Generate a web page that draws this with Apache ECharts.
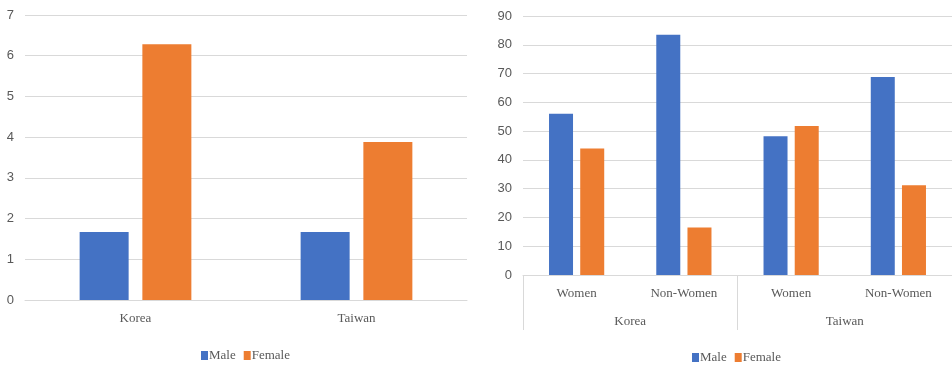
<!DOCTYPE html>
<html>
<head>
<meta charset="utf-8">
<script src="https://cdn.jsdelivr.net/npm/echarts@6/dist/echarts.min.js"></script>
<style>
  html, body { margin: 0; padding: 0; background: #fff; }
  #chart { width: 952px; height: 365px; }
</style>
</head>
<body>
<div id="chart"></div>
<script>
// left panel: share by country
const countries = ["Korea", "Taiwan"];
const leftMale = [1.67, 1.67];
const leftFemale = [6.28, 3.88];
const leftTicks = [0, 1, 2, 3, 4, 5, 6, 7];

// right panel: women / non-women by country
const subCats = ["Women", "Non-Women", "Women", "Non-Women"];
const groupCats = ["Korea", "Taiwan"];
const rightMale = [56, 83.5, 48.2, 68.8];
const rightFemale = [44, 16.5, 51.8, 31.2];

const BLUE = "#4472c4";
const ORANGE = "#ed7d31";
const GRID = "#d9d9d9";
const TXT = "#595959";
const serif = "Liberation Serif";
const sans = "Liberation Sans";

const chart = echarts.init(document.getElementById("chart"));

const valueAxis = (gridIndex, max, interval) => ({
  type: "value",
  gridIndex: gridIndex,
  min: 0,
  max: max,
  interval: interval,
  axisLine: { show: false },
  axisTick: { show: false },
  axisLabel: { color: TXT, fontFamily: sans, fontSize: 13, margin: 11 },
  splitLine: { lineStyle: { color: GRID, width: 1 } },
});

const legendStyle = {
  data: ["Male", "Female"],
  itemWidth: 7,
  itemHeight: 9,
  itemGap: 8,
  icon: "rect",
  textStyle: { color: TXT, fontFamily: serif, fontSize: 13, padding: [0, 0, 0, -4] },
};

const option = {
  animation: false,
  backgroundColor: "#fff",
  grid: [
    { left: 25, right: 485, top: 15, bottom: 65 },
    { left: 523, right: 0, top: 16, bottom: 90 },
  ],
  legend: [
    Object.assign({ left: 196, top: 344 }, legendStyle),
    Object.assign({ left: 687, top: 346 }, legendStyle),
  ],
  xAxis: [
    {
      type: "category",
      gridIndex: 0,
      data: countries,
      axisLine: { lineStyle: { color: GRID } },
      axisTick: { show: false },
      axisLabel: { color: TXT, fontFamily: serif, fontSize: 13, margin: 12 },
    },
    {
      type: "category",
      gridIndex: 1,
      position: "bottom",
      data: subCats,
      axisLine: { lineStyle: { color: GRID } },
      axisTick: { show: false },
      axisLabel: { color: TXT, fontFamily: serif, fontSize: 13, margin: 12 },
    },
    {
      type: "category",
      gridIndex: 1,
      position: "bottom",
      data: groupCats,
      axisLine: { show: false },
      axisTick: { show: true, length: 55, lineStyle: { color: GRID } },
      axisLabel: { color: TXT, fontFamily: serif, fontSize: 13, margin: 40 },
    },
  ],
  yAxis: [valueAxis(0, 7, 1), valueAxis(1, 90, 10)],
  series: [
    {
      name: "Male",
      type: "bar",
      xAxisIndex: 0,
      yAxisIndex: 0,
      data: leftMale,
      barWidth: 49,
      barGap: "28%",
      itemStyle: { color: BLUE },
    },
    {
      name: "Female",
      type: "bar",
      xAxisIndex: 0,
      yAxisIndex: 0,
      data: leftFemale,
      barWidth: 49,
      barGap: "28%",
      itemStyle: { color: ORANGE },
    },
    {
      name: "Male",
      type: "bar",
      xAxisIndex: 1,
      yAxisIndex: 1,
      data: rightMale,
      barWidth: 24,
      barGap: "30%",
      itemStyle: { color: BLUE },
    },
    {
      name: "Female",
      type: "bar",
      xAxisIndex: 1,
      yAxisIndex: 1,
      data: rightFemale,
      barWidth: 24,
      barGap: "30%",
      itemStyle: { color: ORANGE },
    },
  ],
};

chart.setOption(option);
</script>
</body>
</html>
